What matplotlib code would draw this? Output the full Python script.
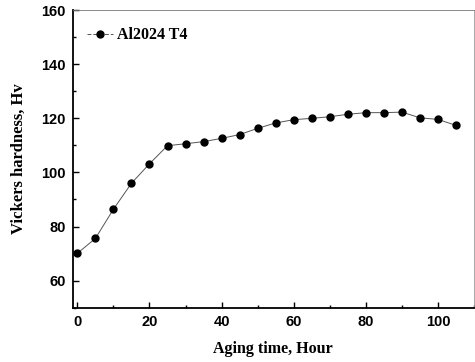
import matplotlib
matplotlib.use('Agg')
import matplotlib.pyplot as plt
from matplotlib.ticker import MultipleLocator

# aging time (hours) and hardness (Hv)
waktu = [0, 5, 10, 15, 20, 25, 30, 35, 40, 45, 50, 55, 60, 65, 70, 75, 80, 85, 90, 95, 100, 105]
kekerasan = [70.1, 75.6, 86.4, 96.0, 103.2, 109.9, 110.6, 111.4, 112.6, 114.0, 116.3, 118.3,
             119.5, 120.0, 120.6, 121.5, 122.1, 122.1, 122.3, 120.2, 119.6, 117.4]
label_seri = "Al2024 T4"

fig = plt.figure(figsize=(4.75, 3.62), dpi=100)
ax = fig.add_axes([0.153, 0.150, 0.845, 0.822])

ax.plot(waktu, kekerasan, color='#555555', linewidth=0.7, marker='o', markersize=5,
        markerfacecolor='black', markeredgecolor='black', label=label_seri)

ax.set_xlim(-1.3, 110)
ax.set_ylim(50, 160)
ax.xaxis.set_major_locator(MultipleLocator(20))
ax.xaxis.set_minor_locator(MultipleLocator(10))
ax.yaxis.set_major_locator(MultipleLocator(20))
ax.yaxis.set_minor_locator(MultipleLocator(10))
ax.tick_params(which='both', direction='in', width=1.0)
ax.tick_params(which='major', length=4, labelsize=10.5, pad=5)
ax.tick_params(which='minor', length=2)
for lbl in ax.get_xticklabels() + ax.get_yticklabels():
    lbl.set_fontweight('bold')
    lbl.set_family('Liberation Sans')

ax.spines['left'].set_linewidth(1.3)
ax.spines['bottom'].set_linewidth(1.3)
ax.spines['top'].set_linewidth(0.6)
ax.spines['right'].set_linewidth(0.6)
ax.spines['top'].set_color('#777777')
ax.spines['right'].set_color('#999999')

ax.set_xlabel("Aging time, Hour", fontsize=11.5, fontweight='bold', family='Liberation Serif', labelpad=9)
ax.set_ylabel("Vickers hardness, Hv", fontsize=12, fontweight='bold', family='Liberation Serif', labelpad=10)

leg = ax.legend(loc='upper left', frameon=False, handlelength=1.6, handletextpad=0.3,
                bbox_to_anchor=(0.0, 0.99), prop={'family': 'Liberation Serif', 'weight': 'bold', 'size': 11.5})
leg.get_lines()[0].set_linestyle((0, (4, 2)))

fig.savefig("out.png", dpi=100)
